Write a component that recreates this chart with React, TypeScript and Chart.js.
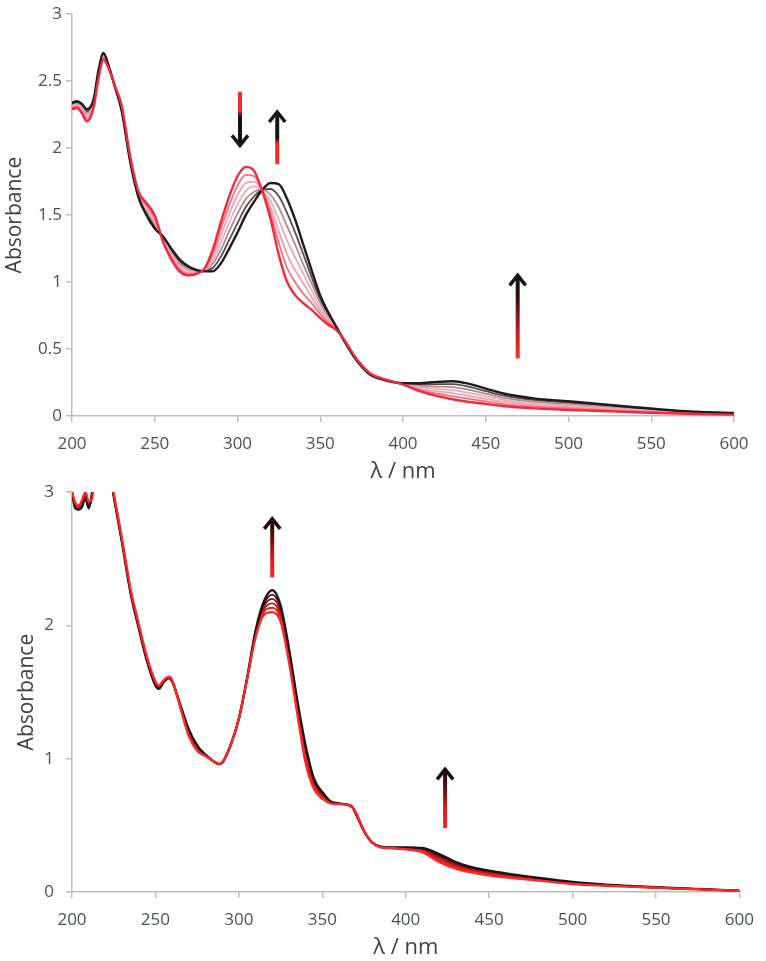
import React, { useEffect, useRef } from "react";
import { Chart, registerables } from "chart.js";

Chart.register(...registerables);

const FONT = "'Open Sans', 'Noto Sans', sans-serif";
const TICK_COLOR = "#4a5156";
const AXIS_COLOR = "#b8bfc3";
const TITLE_COLOR = "#3d4246";

// ---------- Top panel data ----------
const W_TOP = [200, 203, 206, 209, 213, 216, 219, 222, 226, 230, 235, 240, 245, 250, 255, 260, 265, 270, 275, 280, 285, 290, 295, 300, 305, 310, 315, 320, 325, 330, 335, 340, 345, 350, 355, 360, 365, 370, 375, 380, 390, 400, 410, 420, 430, 440, 450, 460, 480, 500, 520, 540, 560, 580, 600];

const TOP_RED = [2.29, 2.30, 2.26, 2.20, 2.30, 2.52, 2.66, 2.60, 2.46, 2.32, 1.95, 1.68, 1.59, 1.50, 1.30, 1.17, 1.08, 1.05, 1.06, 1.10, 1.24, 1.45, 1.64, 1.79, 1.86, 1.83, 1.68, 1.47, 1.20, 1.00, 0.90, 0.84, 0.79, 0.73, 0.68, 0.64, 0.56, 0.46, 0.38, 0.32, 0.27, 0.235, 0.185, 0.15, 0.125, 0.105, 0.09, 0.075, 0.057, 0.045, 0.037, 0.028, 0.02, 0.015, 0.01];
const TOP_I1 = [2.30, 2.31, 2.27, 2.215, 2.31, 2.53, 2.67, 2.605, 2.46, 2.31, 1.94, 1.67, 1.575, 1.48, 1.31, 1.18, 1.095, 1.06, 1.065, 1.095, 1.215, 1.40, 1.575, 1.72, 1.80, 1.79, 1.68, 1.515, 1.29, 1.105, 0.995, 0.91, 0.84, 0.76, 0.695, 0.645, 0.56, 0.46, 0.38, 0.32, 0.27, 0.237, 0.195, 0.168, 0.148, 0.128, 0.109, 0.091, 0.069, 0.056, 0.046, 0.034, 0.024, 0.018, 0.012];
const TOP_I2 = [2.31, 2.32, 2.28, 2.23, 2.32, 2.54, 2.68, 2.61, 2.46, 2.30, 1.94, 1.67, 1.56, 1.47, 1.31, 1.20, 1.11, 1.07, 1.07, 1.095, 1.19, 1.35, 1.51, 1.65, 1.74, 1.75, 1.685, 1.56, 1.375, 1.205, 1.085, 0.985, 0.885, 0.785, 0.71, 0.65, 0.555, 0.455, 0.375, 0.315, 0.27, 0.238, 0.205, 0.185, 0.17, 0.15, 0.128, 0.107, 0.081, 0.067, 0.054, 0.04, 0.028, 0.02, 0.014];
const TOP_I3 = [2.315, 2.325, 2.295, 2.245, 2.33, 2.55, 2.685, 2.61, 2.46, 2.30, 1.93, 1.66, 1.545, 1.45, 1.32, 1.21, 1.125, 1.085, 1.075, 1.09, 1.16, 1.295, 1.445, 1.58, 1.68, 1.715, 1.685, 1.605, 1.465, 1.31, 1.18, 1.055, 0.935, 0.815, 0.725, 0.65, 0.555, 0.455, 0.375, 0.315, 0.27, 0.24, 0.215, 0.203, 0.193, 0.173, 0.148, 0.123, 0.094, 0.078, 0.062, 0.046, 0.032, 0.022, 0.016];
const TOP_I4 = [2.32, 2.33, 2.31, 2.26, 2.34, 2.56, 2.69, 2.615, 2.455, 2.29, 1.92, 1.65, 1.53, 1.43, 1.33, 1.22, 1.14, 1.10, 1.08, 1.085, 1.135, 1.24, 1.38, 1.51, 1.62, 1.675, 1.69, 1.65, 1.555, 1.415, 1.275, 1.125, 0.985, 0.845, 0.74, 0.655, 0.555, 0.455, 0.375, 0.315, 0.265, 0.242, 0.225, 0.22, 0.215, 0.195, 0.167, 0.138, 0.106, 0.088, 0.071, 0.053, 0.037, 0.025, 0.018];
const TOP_I5 = [2.33, 2.34, 2.32, 2.275, 2.35, 2.57, 2.70, 2.615, 2.455, 2.285, 1.92, 1.65, 1.515, 1.42, 1.33, 1.24, 1.155, 1.11, 1.085, 1.085, 1.105, 1.19, 1.315, 1.44, 1.56, 1.64, 1.69, 1.695, 1.64, 1.515, 1.365, 1.20, 1.03, 0.87, 0.755, 0.655, 0.55, 0.45, 0.37, 0.31, 0.265, 0.243, 0.235, 0.238, 0.238, 0.218, 0.186, 0.154, 0.118, 0.099, 0.079, 0.059, 0.041, 0.028, 0.02];
const TOP_BLACK = [2.34, 2.35, 2.33, 2.29, 2.36, 2.58, 2.71, 2.62, 2.455, 2.28, 1.91, 1.64, 1.50, 1.40, 1.34, 1.25, 1.17, 1.12, 1.09, 1.08, 1.08, 1.14, 1.25, 1.37, 1.50, 1.60, 1.69, 1.74, 1.73, 1.62, 1.46, 1.27, 1.08, 0.90, 0.77, 0.66, 0.55, 0.45, 0.37, 0.31, 0.265, 0.245, 0.245, 0.255, 0.26, 0.24, 0.205, 0.17, 0.13, 0.11, 0.088, 0.065, 0.045, 0.03, 0.022];

const TOP_SERIES = [TOP_RED, TOP_I1, TOP_I2, TOP_I3, TOP_I4, TOP_I5, TOP_BLACK];
const TOP_COLORS = ["#ee2a3e", "#f27084", "#f2a2ae", "#e4b0b8", "#ac8c91", "#5e4a4e", "#1f1a1b"];
const TOP_Y_TICKS = [0, 0.5, 1, 1.5, 2, 2.5, 3];

// ---------- Bottom panel data ----------
const W_BOT = [200, 202, 204, 206, 208, 210, 212, 215, 220, 222, 225, 230, 235, 240, 245, 250, 252, 255, 258, 260, 265, 270, 275, 280, 285, 288, 290, 295, 300, 305, 310, 315, 320, 325, 330, 335, 340, 345, 350, 355, 360, 365, 368, 370, 375, 380, 385, 390, 400, 410, 420, 430, 440, 450, 460, 480, 500, 520, 540, 560, 580, 600];

const BOT_RED = [3.0, 2.92, 2.9, 2.94, 3.0, 2.93, 2.95, 3.4, 3.38, 3.21, 2.99, 2.65, 2.28, 2.01, 1.76, 1.58, 1.55, 1.59, 1.615, 1.59, 1.38, 1.17, 1.06, 1.02, 0.98, 0.96, 0.97, 1.10, 1.30, 1.60, 1.91, 2.08, 2.10, 2.03, 1.73, 1.34, 0.97, 0.775, 0.70, 0.665, 0.66, 0.655, 0.635, 0.60, 0.46, 0.37, 0.335, 0.33, 0.32, 0.30, 0.225, 0.175, 0.145, 0.125, 0.11, 0.085, 0.06, 0.047, 0.037, 0.027, 0.018, 0.008];
const BOT_I1 = [3.0, 2.91, 2.89, 2.93, 3.0, 2.92, 2.96, 3.42, 3.38, 3.21, 2.99, 2.64, 2.27, 2.0, 1.75, 1.57, 1.545, 1.587, 1.613, 1.588, 1.384, 1.18, 1.068, 1.022, 0.98, 0.96, 0.97, 1.10, 1.30, 1.602, 1.92, 2.10, 2.133, 2.054, 1.75, 1.36, 0.996, 0.79, 0.71, 0.668, 0.661, 0.655, 0.635, 0.598, 0.459, 0.37, 0.336, 0.331, 0.323, 0.306, 0.237, 0.185, 0.153, 0.132, 0.116, 0.089, 0.063, 0.049, 0.038, 0.028, 0.018, 0.008];
const BOT_I2 = [3.0, 2.9, 2.88, 2.92, 2.99, 2.91, 2.97, 3.44, 3.39, 3.2, 2.98, 2.64, 2.27, 2.0, 1.75, 1.57, 1.54, 1.584, 1.611, 1.586, 1.388, 1.19, 1.076, 1.024, 0.98, 0.96, 0.97, 1.10, 1.30, 1.604, 1.93, 2.12, 2.166, 2.078, 1.77, 1.38, 1.022, 0.805, 0.72, 0.671, 0.662, 0.655, 0.636, 0.596, 0.459, 0.37, 0.337, 0.332, 0.326, 0.312, 0.249, 0.195, 0.161, 0.139, 0.122, 0.093, 0.066, 0.05, 0.039, 0.028, 0.019, 0.009];
const BOT_I3 = [3.0, 2.89, 2.88, 2.91, 2.98, 2.9, 2.98, 3.46, 3.39, 3.2, 2.98, 2.63, 2.26, 1.99, 1.74, 1.56, 1.535, 1.581, 1.609, 1.584, 1.392, 1.20, 1.084, 1.026, 0.98, 0.96, 0.97, 1.10, 1.30, 1.606, 1.94, 2.14, 2.199, 2.102, 1.79, 1.40, 1.048, 0.82, 0.73, 0.674, 0.663, 0.655, 0.637, 0.594, 0.458, 0.37, 0.338, 0.332, 0.329, 0.318, 0.261, 0.205, 0.169, 0.146, 0.128, 0.097, 0.069, 0.052, 0.04, 0.029, 0.019, 0.009];
const BOT_I4 = [3.0, 2.88, 2.87, 2.9, 2.97, 2.89, 2.99, 3.48, 3.4, 3.2, 2.97, 2.63, 2.26, 1.99, 1.74, 1.56, 1.53, 1.578, 1.607, 1.582, 1.396, 1.21, 1.092, 1.028, 0.98, 0.96, 0.97, 1.10, 1.30, 1.608, 1.95, 2.16, 2.232, 2.126, 1.81, 1.42, 1.074, 0.835, 0.74, 0.677, 0.664, 0.655, 0.638, 0.592, 0.458, 0.37, 0.339, 0.333, 0.332, 0.324, 0.273, 0.215, 0.177, 0.153, 0.134, 0.101, 0.072, 0.053, 0.041, 0.029, 0.02, 0.01];
const BOT_BLACK = [3.0, 2.88, 2.87, 2.89, 2.96, 2.88, 3.0, 3.5, 3.4, 3.2, 2.97, 2.62, 2.25, 1.98, 1.73, 1.55, 1.525, 1.575, 1.605, 1.58, 1.40, 1.22, 1.10, 1.03, 0.98, 0.96, 0.97, 1.10, 1.30, 1.61, 1.96, 2.18, 2.265, 2.15, 1.83, 1.44, 1.10, 0.85, 0.75, 0.68, 0.665, 0.655, 0.638, 0.59, 0.457, 0.37, 0.34, 0.334, 0.335, 0.33, 0.285, 0.225, 0.185, 0.16, 0.14, 0.105, 0.075, 0.055, 0.042, 0.03, 0.02, 0.01];

const BOT_SERIES = [BOT_RED, BOT_I1, BOT_I2, BOT_I3, BOT_I4, BOT_BLACK];
const BOT_COLORS = ["#ff2626", "#e41e1e", "#bc1717", "#8c1212", "#5a0d0d", "#1c1414"];
const BOT_Y_TICKS = [0, 1, 2, 3];

// ---------- Arrow annotations (data coordinates) ----------
const TOP_ARROW_X = [301.5, 324, 469.3];
const TOP_ARROW_FROM = [2.42, 1.88, 0.43];
const TOP_ARROW_TO = [2.02, 2.27, 1.05];
const TOP_ARROW_STOPS: [number, string][][] = [
  [[0, "#ff2a2a"], [0.36, "#f02828"], [0.46, "#151515"], [1, "#151515"]],
  [[0, "#ff2a2a"], [0.4, "#f02828"], [0.5, "#151515"], [1, "#151515"]],
  [[0, "#ff2a2a"], [0.35, "#c01c22"], [0.75, "#2a0e10"], [1, "#151515"]],
];
const BOT_ARROW_X = [320, 423.6];
const BOT_ARROW_FROM = [2.36, 0.48];
const BOT_ARROW_TO = [2.8, 0.92];
const BOT_ARROW_STOPS: [number, string][][] = [
  [[0, "#ff2424"], [0.35, "#d01c1c"], [0.8, "#3a0c0e"], [1, "#1e0a0a"]],
  [[0, "#ff2424"], [0.35, "#d01c1c"], [0.8, "#3a0c0e"], [1, "#1e0a0a"]],
];

type Arrow = { x: number; from: number; to: number; stops: [number, string][]; head: string };

function makeArrowPlugin(arrows: Arrow[]) {
  return {
    id: "specArrows",
    afterDatasetsDraw(chart: any) {
      const { ctx } = chart;
      const xs = chart.scales.x;
      const ys = chart.scales.y;
      arrows.forEach((a) => {
        const px = xs.getPixelForValue(a.x);
        const y0 = ys.getPixelForValue(a.from);
        const y1 = ys.getPixelForValue(a.to);
        const dir = Math.sign(y1 - y0);
        const g = ctx.createLinearGradient(px, y0, px, y1);
        a.stops.forEach(([o, c]) => g.addColorStop(o, c));
        ctx.save();
        ctx.strokeStyle = g;
        ctx.lineWidth = 4;
        ctx.lineCap = "butt";
        ctx.beginPath();
        ctx.moveTo(px, y0);
        ctx.lineTo(px, y1 - dir * 1.5);
        ctx.stroke();
        ctx.strokeStyle = a.head;
        ctx.lineWidth = 3.5;
        ctx.lineJoin = "miter";
        ctx.beginPath();
        ctx.moveTo(px - 8, y1 - dir * 10);
        ctx.lineTo(px, y1);
        ctx.lineTo(px + 8, y1 - dir * 10);
        ctx.stroke();
        ctx.restore();
      });
    },
  };
}

function makeXTitlePlugin(offset: number) {
  return {
    id: "lambdaTitle",
    afterDraw(chart: any) {
      const { ctx, chartArea } = chart;
      const cx = (chartArea.left + chartArea.right) / 2;
      const cy = chartArea.bottom + offset;
      ctx.save();
      ctx.fillStyle = TITLE_COLOR;
      ctx.textBaseline = "alphabetic";
      ctx.textAlign = "center";
      ctx.font = `22px ${FONT}`;
      ctx.fillText("λ / nm", cx, cy);
      ctx.restore();
    },
  };
}

type PanelProps = {
  top: number;
  height: number;
  wl: number[];
  series: number[][];
  colors: string[];
  yTicks: number[];
  arrows: Arrow[];
  padTop: number;
  padRight: number;
  xAxisHeight: number;
  yTickPadding: number;
  yTitlePad: number;
  xTitleOffset: number;
};

function Panel(p: PanelProps) {
  const ref = useRef<HTMLCanvasElement | null>(null);
  useEffect(() => {
    if (!ref.current) return;
    const last = p.series.length - 1;
    const datasets = p.series.map((s, i) => ({
      data: p.wl.map((x, j) => ({ x, y: s[j] })),
      borderColor: p.colors[i],
      borderWidth: i === 0 || i === last ? 2.4 : 1.8,
      pointRadius: 0,
      cubicInterpolationMode: "monotone" as const,
      order: i === 0 || i === last ? 0 : 1,
      fill: false,
    }));
    const yMax = p.yTicks[p.yTicks.length - 1];
    const chart = new Chart(ref.current, {
      type: "line",
      data: { datasets },
      options: {
        animation: false,
        responsive: false,
        events: [],
        layout: { padding: { top: p.padTop, right: p.padRight, left: 0, bottom: 0 } },
        plugins: { legend: { display: false }, tooltip: { enabled: false } },
        scales: {
          x: {
            type: "linear",
            min: 200,
            max: 600,
            afterFit: (s: any) => {
              s.height = p.xAxisHeight;
            },
            afterBuildTicks: (s: any) => {
              s.ticks = [200, 250, 300, 350, 400, 450, 500, 550, 600].map((v) => ({ value: v }));
            },
            ticks: {
              color: TICK_COLOR,
              font: { family: FONT, size: 17 },
              padding: 12,
              maxRotation: 0,
              autoSkip: false,
              callback: (v: any) => String(v),
            },
            grid: { display: true, drawOnChartArea: false, drawTicks: true, tickLength: 6, color: AXIS_COLOR, lineWidth: 1.5 },
            border: { display: true, color: AXIS_COLOR, width: 1.5 },
          },
          y: {
            type: "linear",
            min: 0,
            max: yMax,
            afterFit: (s: any) => {
              s.width = 72;
            },
            afterBuildTicks: (s: any) => {
              s.ticks = p.yTicks.map((v) => ({ value: v }));
            },
            ticks: {
              color: TICK_COLOR,
              font: { family: FONT, size: 17 },
              padding: p.yTickPadding,
              autoSkip: false,
              callback: (v: any) => String(v),
            },
            grid: { display: true, drawOnChartArea: false, drawTicks: true, tickLength: 6, color: AXIS_COLOR, lineWidth: 1.5 },
            border: { display: true, color: AXIS_COLOR, width: 1.5 },
            title: {
              display: true,
              text: "Absorbance",
              color: TITLE_COLOR,
              font: { family: FONT, size: 21 },
              padding: { top: p.yTitlePad, bottom: 0 },
            },
          },
        },
      },
      plugins: [makeArrowPlugin(p.arrows), makeXTitlePlugin(p.xTitleOffset)],
    });
    return () => chart.destroy();
  }, []);
  return (
    <canvas
      ref={ref}
      width={766}
      height={p.height}
      style={{ position: "absolute", left: 0, top: p.top, width: 766, height: p.height, display: "block" }}
    />
  );
}

export default function App() {
  const topArrows: Arrow[] = TOP_ARROW_X.map((x, i) => ({
    x,
    from: TOP_ARROW_FROM[i],
    to: TOP_ARROW_TO[i],
    stops: TOP_ARROW_STOPS[i],
    head: "#151515",
  }));
  const botArrows: Arrow[] = BOT_ARROW_X.map((x, i) => ({
    x,
    from: BOT_ARROW_FROM[i],
    to: BOT_ARROW_TO[i],
    stops: BOT_ARROW_STOPS[i],
    head: "#1e0a0a",
  }));
  return (
    <div style={{ position: "absolute", left: 0, top: 0, width: 766, height: 961, background: "#ffffff" }}>
      <Panel
        top={0}
        height={485}
        wl={W_TOP}
        series={TOP_SERIES}
        colors={TOP_COLORS}
        yTicks={TOP_Y_TICKS}
        arrows={topArrows}
        padTop={10}
        padRight={32}
        xAxisHeight={69}
        yTickPadding={4}
        yTitlePad={2}
        xTitleOffset={62}
      />
      <Panel
        top={470}
        height={491}
        wl={W_BOT}
        series={BOT_SERIES}
        colors={BOT_COLORS}
        yTicks={BOT_Y_TICKS}
        arrows={botArrows}
        padTop={15}
        padRight={19}
        xAxisHeight={69}
        yTickPadding={12}
        yTitlePad={14}
        xTitleOffset={62}
      />
    </div>
  );
}
